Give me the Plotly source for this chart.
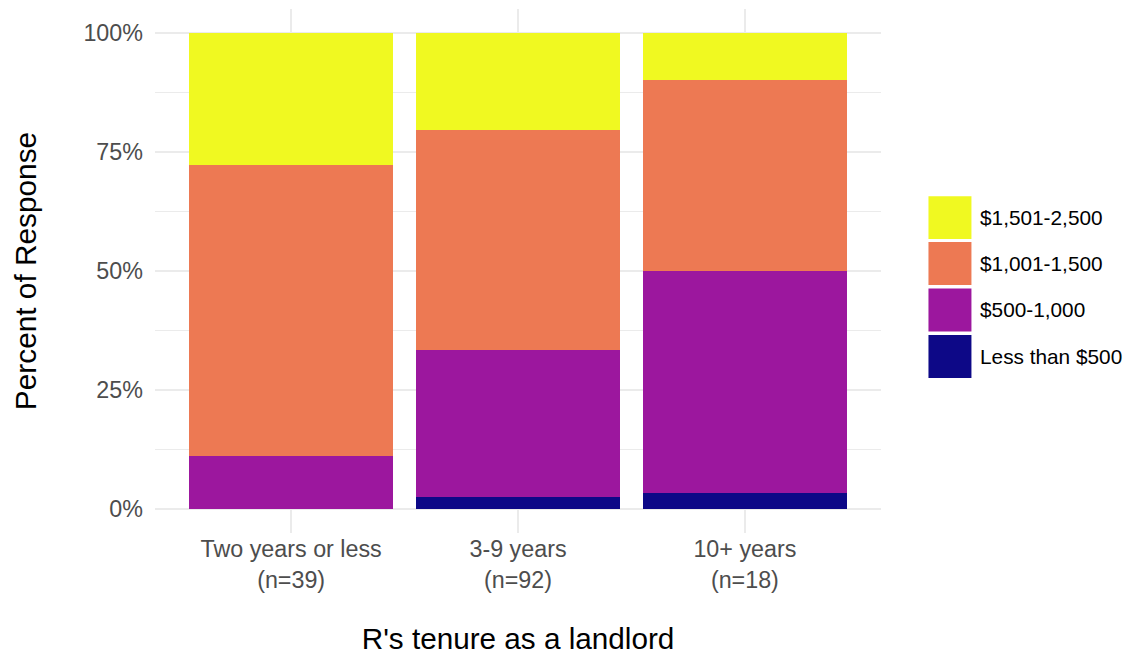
import plotly.graph_objects as go

categories = ["Two years or less<br>(n=39)", "3-9 years<br>(n=92)", "10+ years<br>(n=18)"]
series_names = ["Less than $500", "$500-1,000", "$1,001-1,500", "$1,501-2,500"]
series_colors = ["#0D0887", "#9C179E", "#ED7953", "#F0F921"]
less_500 = [0.0, 2.6, 3.3]
from_500_1000 = [11.1, 30.8, 46.7]
from_1001_1500 = [61.1, 46.2, 40.0]
from_1501_2500 = [27.8, 20.4, 10.0]
series_values = [less_500, from_500_1000, from_1001_1500, from_1501_2500]
y_tick_vals = [0, 0.25, 0.5, 0.75, 1.0]
y_tick_text = ["0%", "25%", "50%", "75%", "100%"]

FONT = "Liberation Sans, Arial, sans-serif"
W, H = 1125, 655
ML, MR, MT, MB = 155, 243.5, 8.6, 121.7
PW = W - ML - MR
PH = H - MT - MB


def px_x(px):
    return (px - ML) / PW


def px_y(py):
    return (H - MB - py) / PH


fig = go.Figure()
for name, color, vals in zip(series_names, series_colors, series_values):
    fig.add_trace(go.Bar(
        x=categories, y=[v / 100 for v in vals], name=name,
        marker=dict(color=color, line=dict(width=0)),
        width=0.9, showlegend=False,
        hovertemplate="%{x}<br>" + name + ": %{y:.1%}<extra></extra>",
    ))

# Custom legend with large keys (top to bottom = reverse stack order)
shapes = []
annotations = []
key_tops = [196, 242, 288.5, 335]
key_h = 43
for i, (name, color) in enumerate(zip(series_names[::-1], series_colors[::-1])):
    top = key_tops[i]
    shapes.append(dict(
        type="rect", xref="paper", yref="paper",
        x0=px_x(929), x1=px_x(972), y0=px_y(top + key_h), y1=px_y(top),
        fillcolor=color, line=dict(width=0), layer="above",
    ))
    annotations.append(dict(
        xref="paper", yref="paper", x=px_x(979), y=px_y(top + key_h / 2),
        text=name, showarrow=False, xanchor="left", yanchor="middle",
        font=dict(family=FONT, size=20.8, color="#000000"),
    ))

fig.update_layout(
    width=W, height=H,
    margin=dict(l=ML, r=MR, t=MT, b=MB, autoexpand=False),
    paper_bgcolor="white", plot_bgcolor="white",
    barmode="stack", bargap=0.1,
    shapes=shapes, annotations=annotations,
    font=dict(family=FONT),
    xaxis=dict(
        range=[-0.6, 2.6], showgrid=True, gridcolor="#EBEBEB", gridwidth=1.8,
        zeroline=False, showline=False, ticks="",
        tickfont=dict(family=FONT, size=23.3, color="#4D4D4D"),
        title=dict(text="R's tenure as a landlord", standoff=36,
                   font=dict(family=FONT, size=29.7, color="#000000")),
    ),
    yaxis=dict(
        range=[-0.05, 1.05], tickvals=y_tick_vals, ticktext=y_tick_text,
        showgrid=True, gridcolor="#EBEBEB", gridwidth=1.8,
        minor=dict(dtick=0.125, tick0=0, showgrid=True, gridcolor="#EBEBEB", gridwidth=0.9),
        zeroline=False, showline=False, ticks="", ticklabelstandoff=11,
        tickfont=dict(family=FONT, size=23.3, color="#4D4D4D"),
        title=dict(text="Percent of Response", standoff=37,
                   font=dict(family=FONT, size=29.8, color="#000000")),
    ),
)

fig.write_html("out.html", config={"displayModeBar": False},
               post_script="document.body.style.margin='0';")
